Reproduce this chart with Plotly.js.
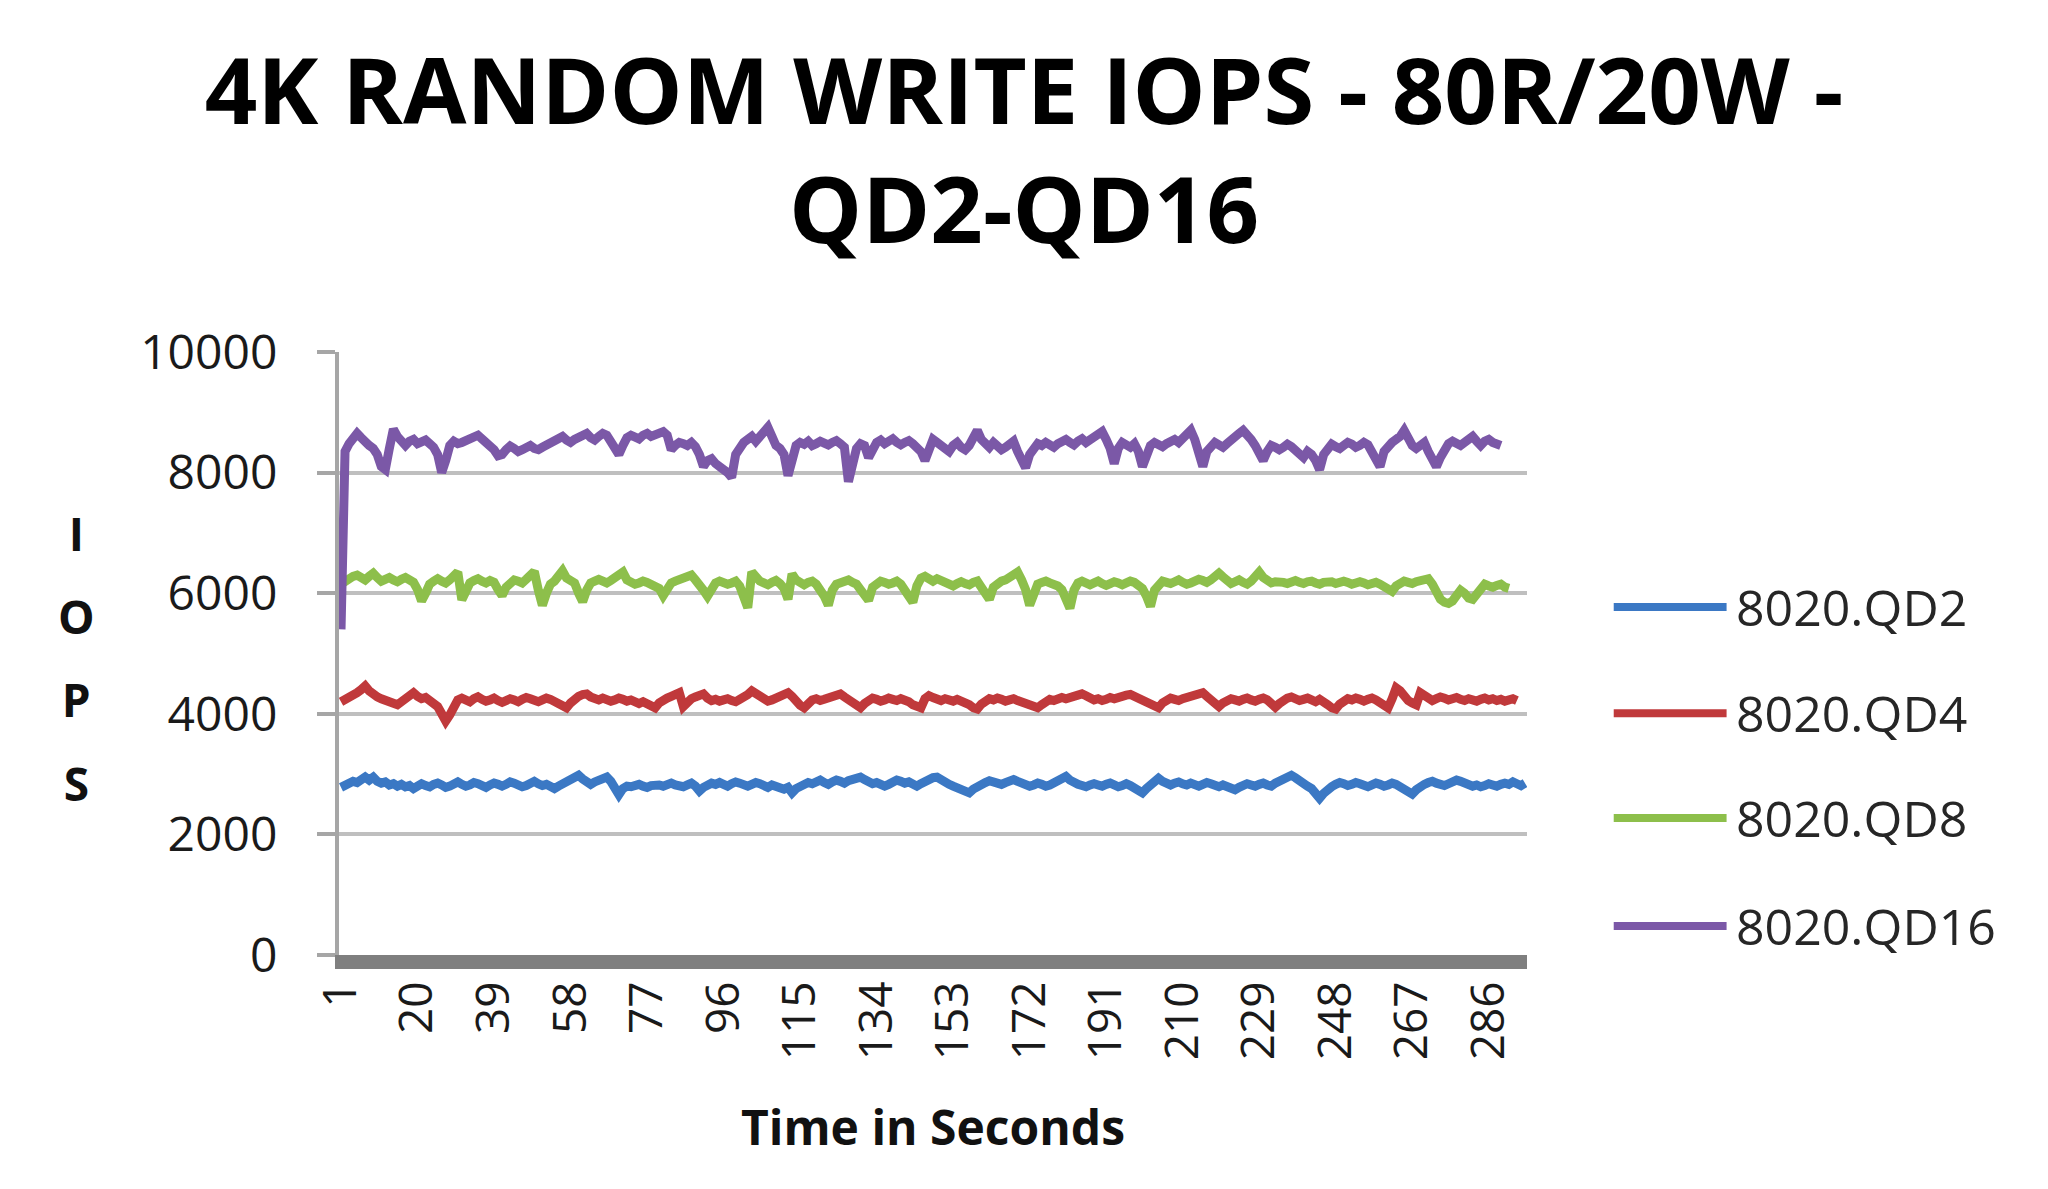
<!DOCTYPE html>
<html>
<head>
<meta charset="utf-8">
<script src="https://cdn.plot.ly/plotly-3.0.1.min.js"></script>
<style>
  html, body { margin: 0; padding: 0; background: #ffffff; }
  #chart { width: 2048px; height: 1189px; }
</style>
</head>
<body>
<div id="chart"></div>
<script>
// IOPS, one value per second
var qd2 = [
  2780, 2820, 2850, 2880, 2860, 2910, 2950, 2900, 2950, 2880,
  2850, 2870, 2820, 2840, 2800, 2830, 2790, 2810, 2760, 2800,
  2840, 2810, 2790, 2830, 2850, 2820, 2780, 2800, 2840, 2870,
  2830, 2800, 2820, 2860, 2840, 2810, 2780, 2820, 2850, 2830,
  2800, 2830, 2870, 2850, 2820, 2790, 2810, 2850, 2880, 2840,
  2810, 2830, 2790, 2760, 2800, 2840, 2870, 2900, 2940, 2980,
  2920, 2860, 2830, 2870, 2910, 2940, 2950, 2880, 2760, 2660,
  2760, 2800, 2790, 2810, 2830, 2800, 2780, 2810, 2830, 2820,
  2800, 2830, 2850, 2820, 2800, 2790, 2820, 2850, 2800, 2720,
  2780, 2820, 2850, 2830, 2860, 2830, 2800, 2840, 2870, 2850,
  2820, 2800, 2830, 2860, 2840, 2810, 2780, 2820, 2800, 2770,
  2750, 2780, 2690, 2760, 2800, 2830, 2860, 2840, 2880, 2900,
  2860, 2830, 2870, 2900, 2880, 2850, 2890, 2920, 2940, 2950,
  2910, 2870, 2840, 2860, 2830, 2800, 2830, 2860, 2900, 2880,
  2850, 2870, 2830, 2800, 2840, 2880, 2910, 2940, 2950, 2900,
  2860, 2830, 2800, 2780, 2760, 2730, 2690, 2750, 2800, 2830,
  2860, 2890, 2870, 2850, 2830, 2860, 2890, 2910, 2880, 2850,
  2830, 2800, 2820, 2850, 2830, 2800, 2820, 2860, 2900, 2930,
  2960, 2900, 2850, 2830, 2810, 2790, 2820, 2840, 2820, 2800,
  2830, 2850, 2820, 2790, 2810, 2840, 2810, 2780, 2740, 2690,
  2760, 2830, 2880, 2930, 2880, 2840, 2820, 2850, 2870, 2840,
  2820, 2850, 2830, 2800, 2830, 2860, 2840, 2810, 2790, 2820,
  2800, 2770, 2740, 2780, 2810, 2840, 2820, 2800, 2830, 2850,
  2820, 2800, 2850, 2880, 2910, 2950, 2980, 2940, 2880, 2830,
  2800, 2760, 2700, 2600, 2680, 2750, 2790, 2830, 2860, 2840,
  2810, 2830, 2860, 2840, 2810, 2790, 2820, 2850, 2830, 2800,
  2820, 2850, 2830, 2800, 2760, 2720, 2670, 2740, 2800, 2830,
  2860, 2880, 2850, 2830, 2810, 2840, 2870, 2900, 2880, 2850,
  2830, 2800, 2820, 2790, 2810, 2840, 2820, 2800, 2830, 2850,
  2830, 2870, 2840, 2810, 2850
];
var qd4 = [
  4200, 4230, 4280, 4300, 4350, 4400, 4460, 4380, 4310, 4280,
  4250, 4220, 4200, 4170, 4150, 4200, 4260, 4330, 4350, 4290,
  4250, 4270, 4230, 4200, 4120, 4000, 3880, 3980, 4150, 4230,
  4260, 4230, 4200, 4250, 4280, 4240, 4210, 4230, 4260, 4220,
  4190, 4220, 4250, 4230, 4200, 4240, 4270, 4250, 4220, 4200,
  4230, 4260, 4240, 4210, 4180, 4130, 4100, 4180, 4250, 4290,
  4320, 4330, 4280, 4250, 4230, 4260, 4240, 4210, 4230, 4260,
  4240, 4210, 4230, 4200, 4170, 4200, 4160, 4120, 4100, 4180,
  4240, 4260, 4290, 4320, 4350, 4120, 4200, 4250, 4280, 4300,
  4330, 4260, 4220, 4240, 4210, 4230, 4250, 4220, 4200, 4240,
  4270, 4320, 4380, 4340, 4280, 4240, 4210, 4230, 4260, 4290,
  4320, 4350, 4290, 4200, 4140, 4100, 4170, 4230, 4250, 4220,
  4240, 4270, 4300, 4320, 4330, 4280, 4240, 4190, 4130, 4100,
  4170, 4230, 4260, 4240, 4210, 4230, 4260, 4240, 4220, 4250,
  4230, 4200, 4150, 4120, 4100, 4250, 4300, 4270, 4240, 4220,
  4250, 4230, 4210, 4240, 4220, 4190, 4150, 4100, 4080, 4160,
  4220, 4250, 4230, 4260, 4240, 4210, 4230, 4250, 4220, 4190,
  4160, 4130, 4110, 4100, 4150, 4210, 4240, 4220, 4250, 4270,
  4250, 4280, 4300, 4310, 4330, 4300, 4260, 4230, 4250, 4220,
  4240, 4270, 4250, 4280, 4300, 4310, 4320, 4290, 4250, 4220,
  4200, 4150, 4110, 4100, 4180, 4230, 4260, 4240, 4220, 4250,
  4270, 4300, 4320, 4340, 4350, 4290, 4230, 4170, 4120, 4180,
  4230, 4250, 4230, 4210, 4240, 4260, 4230, 4210, 4240, 4260,
  4230, 4180, 4110, 4170, 4230, 4260, 4280, 4250, 4220, 4240,
  4260, 4230, 4200, 4240, 4210, 4150, 4100, 4080, 4160, 4220,
  4250, 4230, 4260, 4240, 4210, 4240, 4260, 4230, 4180, 4130,
  4100, 4250, 4430, 4380, 4280, 4220, 4180, 4150, 4350, 4300,
  4250, 4220, 4250, 4280, 4260, 4230, 4250, 4270, 4240, 4220,
  4250, 4230, 4210, 4240, 4260, 4230, 4250, 4220, 4240, 4210,
  4230, 4250, 4220
];
var qd8 = [
  6150, 6200, 6250, 6280, 6300, 6260, 6220, 6280, 6330, 6260,
  6200, 6230, 6260, 6220, 6190, 6230, 6260, 6220, 6180, 6060,
  5870, 6000, 6150, 6200, 6240, 6200, 6170, 6220, 6290, 6350,
  5890, 6050, 6170, 6210, 6240, 6200, 6170, 6210, 6180, 6060,
  5960, 6100, 6180, 6220, 6200, 6170, 6230, 6300, 6360, 6050,
  5800, 6000, 6150, 6200, 6280, 6370, 6250, 6200, 6170, 6000,
  5860, 6050, 6170, 6200, 6230, 6200, 6170, 6210, 6250, 6300,
  6350, 6220, 6180, 6150, 6170, 6200, 6180, 6150, 6120, 6080,
  5960, 6100, 6170, 6200, 6230, 6250, 6280, 6300, 6220, 6150,
  6050, 5950, 6100, 6170, 6200, 6180, 6150, 6170, 6200, 6120,
  5900, 5760, 6350, 6250, 6200, 6170, 6140, 6180, 6210, 6160,
  6080, 5900, 6320, 6220, 6170, 6140, 6180, 6200, 6150, 6060,
  5950, 5800, 6050, 6150, 6180, 6200, 6220, 6180, 6150, 6060,
  5930, 5880, 6100, 6170, 6200, 6180, 6150, 6170, 6200, 6150,
  6040, 5900, 5850, 6120, 6250, 6280, 6230, 6200, 6240, 6210,
  6180, 6150, 6120, 6160, 6190, 6160, 6140, 6180, 6200, 6100,
  5980, 5900, 6100, 6170, 6200, 6220, 6280, 6340, 6350, 6220,
  6060, 5800, 6000, 6150, 6180, 6200, 6170, 6150, 6120, 6060,
  5900, 5750, 6050, 6170, 6200, 6170, 6140, 6170, 6200, 6160,
  6130, 6160, 6190, 6170, 6140, 6170, 6200, 6180, 6140, 6080,
  5950, 5780, 6050, 6150, 6200, 6180, 6160, 6190, 6220, 6180,
  6150, 6170, 6200, 6230, 6210, 6180, 6220, 6270, 6330, 6270,
  6200, 6160, 6190, 6220, 6180, 6150, 6200, 6280, 6350, 6260,
  6200, 6170, 6190, 6200, 6180, 6160, 6190, 6210, 6180, 6160,
  6190, 6200, 6170, 6150, 6180, 6200, 6190, 6160, 6180, 6200,
  6180, 6150, 6170, 6190, 6170, 6140, 6160, 6180, 6150, 6120,
  6080, 6030, 6120, 6170, 6200, 6180, 6160, 6190, 6220, 6250,
  6240, 6150, 6000, 5900, 5850, 5830, 5870, 5950, 6050, 6000,
  5920, 5900, 6000, 6100, 6150, 6120, 6100, 6130, 6150, 6100,
  6080
];
var qd16 = [
  5400, 8350, 8480, 8600, 8650, 8580, 8500, 8450, 8400, 8300,
  8100, 8050, 8400, 8720, 8600, 8500, 8450, 8520, 8550, 8480,
  8500, 8540, 8480, 8420, 8300, 8000, 8200, 8450, 8520, 8480,
  8500, 8540, 8580, 8600, 8620, 8560, 8500, 8460, 8380, 8280,
  8300, 8380, 8440, 8400, 8350, 8380, 8420, 8450, 8400, 8380,
  8420, 8460, 8500, 8530, 8560, 8600, 8540, 8500, 8550, 8580,
  8620, 8650, 8580, 8540, 8600, 8650, 8620, 8500, 8400, 8300,
  8450, 8580, 8620, 8600, 8560, 8620, 8650, 8600, 8640, 8660,
  8680, 8620, 8380, 8450, 8500, 8480, 8450, 8500, 8430, 8300,
  8100, 8200, 8230, 8150, 8120, 8050, 8000, 7920, 8300, 8420,
  8500, 8550, 8600, 8520, 8580, 8650, 8750, 8600, 8450, 8400,
  8300, 7950, 8250, 8450, 8500, 8470, 8520, 8450, 8480, 8520,
  8490, 8460, 8500, 8530, 8480, 8420, 7850, 8150, 8400, 8480,
  8450, 8250, 8400, 8500, 8540, 8480, 8520, 8560, 8500, 8460,
  8500, 8530, 8480, 8420, 8350, 8200, 8400, 8550, 8500, 8450,
  8400, 8350, 8450, 8500, 8420, 8380, 8450, 8550, 8700, 8550,
  8480, 8420, 8500, 8450, 8380, 8420, 8480, 8520, 8350, 8200,
  8080, 8300, 8420, 8480, 8450, 8500, 8460, 8420, 8480, 8520,
  8550, 8500, 8460, 8520, 8560, 8500, 8540, 8580, 8620, 8680,
  8550, 8400, 8150, 8400, 8500, 8460, 8420, 8480, 8350, 8100,
  8300, 8450, 8500, 8470, 8430, 8480, 8520, 8550, 8500, 8580,
  8620, 8700, 8550, 8350, 8100, 8350, 8450, 8500, 8460, 8420,
  8480, 8550, 8600, 8650, 8700, 8640, 8550, 8450, 8350, 8200,
  8350, 8450, 8420, 8380, 8420, 8470, 8430, 8380, 8300, 8250,
  8350, 8300, 8200, 8050, 8300, 8420, 8470, 8430, 8400, 8450,
  8500, 8470, 8420, 8450, 8500, 8460, 8350, 8200, 8100, 8350,
  8450, 8500, 8550, 8600, 8700, 8550, 8450, 8400, 8450, 8500,
  8350, 8200, 8100, 8250, 8400, 8480, 8520, 8480, 8450, 8500,
  8550, 8600, 8520, 8450, 8520, 8550, 8500, 8470, 8450
];

var seriesNames = ['8020.QD2', '8020.QD4', '8020.QD8', '8020.QD16'];
var seriesValues = [qd2, qd4, qd8, qd16];
var seriesColors = ['#3b78c4', '#c0393b', '#8dbf4b', '#7b58a7'];

// seconds 1..N on the category axis
var seconds = [];
for (var s = 1; s <= qd2.length; s++) {
    seconds.push(s);
}

var data = [];
for (var k = 0; k < seriesValues.length; k++) {
    data.push({
        x: seconds.slice(0, seriesValues[k].length),
        y: seriesValues[k],
        name: seriesNames[k],
        type: 'scatter',
        mode: 'lines',
        line: {color: seriesColors[k], width: 9},
        hoverinfo: 'skip'
    });
}

// hand-built legend, long swatches like the original
var legendY = [0.577, 0.401, 0.227, 0.048];
var shapes = [];
var annotations = [];
for (var k = 0; k < seriesNames.length; k++) {
    shapes.push({
        type: 'line', xref: 'paper', yref: 'paper',
        x0: 1.073, x1: 1.168, y0: legendY[k], y1: legendY[k],
        line: {color: seriesColors[k], width: 8}
    });
    annotations.push({
        xref: 'paper', yref: 'paper', x: 1.174, y: legendY[k],
        xanchor: 'left', yanchor: 'middle', showarrow: false,
        text: seriesNames[k],
        font: {family: 'Open Sans', size: 50, color: '#262626'}
    });
}

var bigFont = '<span style="font-size:46px">';
annotations.push({
    xref: 'paper', yref: 'paper', x: -0.221, y: 0.4925,
    xanchor: 'center', yanchor: 'middle', showarrow: false,
    align: 'center',
    text: bigFont + 'I</span><br>' + bigFont + 'O</span><br>' +
          bigFont + 'P</span><br>' + bigFont + 'S</span>',
    font: {family: 'Open Sans', size: 64, color: '#111111', weight: 'bold'}
});

var layout = {
    width: 2048,
    height: 1189,
    paper_bgcolor: '#ffffff',
    plot_bgcolor: '#ffffff',
    showlegend: false,
    margin: {l: 339, r: 521, t: 352, b: 234},
    title: {
        text: '4K RANDOM WRITE IOPS - 80R/20W -<br>QD2-QD16',
        font: {family: 'Open Sans', size: 92, color: '#000000', weight: 'bold'},
        x: 0.5, xref: 'container', xanchor: 'center',
        y: 0.896, yref: 'container', yanchor: 'top'
    },
    xaxis: {
        range: [0.5, qd2.length + 0.5],
        tickmode: 'linear',
        tick0: 1,
        dtick: 19,
        tickangle: -90,
        ticks: '',
        showgrid: false,
        zeroline: false,
        showline: true,
        linecolor: '#7f7f7f',
        linewidth: 14,
        tickfont: {family: 'Open Sans', size: 46, color: '#1a1a1a'},
        ticklabelstandoff: -6,
        title: {
            text: 'Time in Seconds',
            font: {family: 'Open Sans', size: 48, color: '#111111', weight: 'bold'},
            standoff: 58
        },
        automargin: false
    },
    yaxis: {
        range: [0, 10000],
        dtick: 2000,
        tickformat: 'd',
        ticks: 'outside',
        ticklen: 18,
        tickwidth: 4,
        tickcolor: '#a6a6a6',
        showline: true,
        linecolor: '#a6a6a6',
        linewidth: 4,
        showgrid: true,
        gridcolor: '#bfbfbf',
        gridwidth: 4,
        zeroline: false,
        tickfont: {family: 'Open Sans', size: 48, color: '#1a1a1a'},
        ticklabelstandoff: 30,
        automargin: false
    },
    shapes: shapes,
    annotations: annotations
};

var config = {staticPlot: true, responsive: false};

Plotly.newPlot('chart', data, layout, config);
</script>
</body>
</html>
